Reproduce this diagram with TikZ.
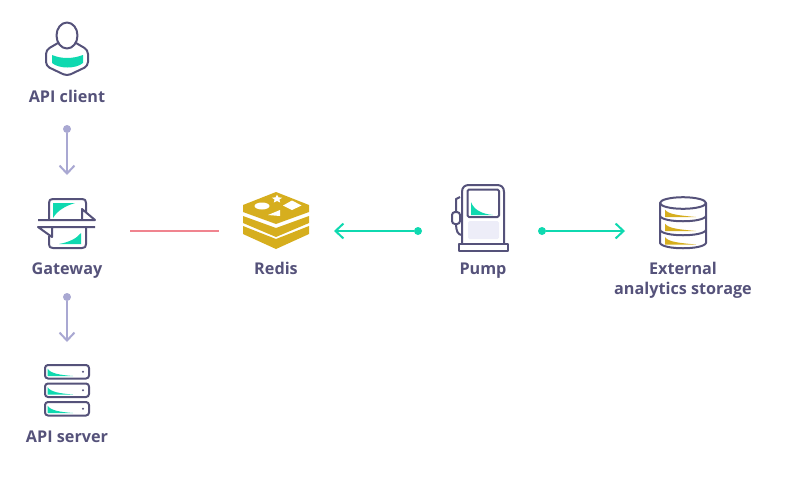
\documentclass[tikz,border=0pt]{standalone}
\usepackage{fontspec}
\setmainfont{Open Sans}
\usepackage{xcolor}
\usetikzlibrary{arrows.meta,shapes.geometric}
\definecolor{inkc}{HTML}{55527A}
\definecolor{tealc}{HTML}{0FD9B0}
\definecolor{goldc}{HTML}{D6AE1E}
\definecolor{lilac}{HTML}{A9A8D2}
\definecolor{redc}{HTML}{F0848F}
\definecolor{softbg}{HTML}{EDEDF8}
\tikzset{
  lbl/.style={font=\fontsize{16.2}{20}\selectfont\bfseries,text=inkc,align=center,inner sep=0pt,anchor=base},
  ic/.style={draw=inkc,line width=2pt,line join=round},
  dotnd/.style={circle,inner sep=0pt,minimum size=8pt},
  arv/.style={-{Straight Barb[length=8pt,width=15pt]},line width=2pt,lilac},
  art/.style={-{Straight Barb[length=8pt,width=15pt]},line width=2pt,tealc}
}
\begin{document}
\begin{tikzpicture}[x=1pt,y=-1pt]
\useasboundingbox (0,0) rectangle (800,483);
% labels
\node[lbl] (client) at (67,102) {API client};
\node[lbl] (gateway) at (67,274.7) {Gateway};
\node[lbl] (server) at (67,442.7) {API server};
\node[lbl] (redis) at (276,274.7) {Redis};
\node[lbl] (pump) at (483,274.7) {Pump};
\node[lbl] (storage) at (683,274.7) {External};
\node[lbl] (storagetwo) at (683,294.7) {analytics storage};
% client icon
\fill[tealc] (52,55) .. controls (62,59) and (72,59) .. (83,55) -- (83,63) .. controls (76,69) and (59,69) .. (52,63) -- cycle;
\draw[ic] (67,35.5) ellipse (10.5 and 13);
\draw[ic,rounded corners=4pt] (58,43) -- (46,50) -- (46,66) -- (67,76) -- (88,66) -- (88,50) -- (76,43);
% gateway icon
\fill[tealc] (53,203) -- (75,203) .. controls (65,206) and (57,211) .. (53,218) -- cycle;
\fill[tealc] (81,233) -- (81,244) -- (59,244) .. controls (70,242) and (77,238) .. (81,233) -- cycle;
\draw[ic] (49,220) -- (49,203) .. controls (49,200) and (50,199) .. (53,199) -- (82,199) .. controls (85,199) and (86,200) .. (86,203) -- (86,212);
\draw[ic] (86,227) -- (86,244) .. controls (86,247) and (85,248) .. (82,248) -- (53,248) .. controls (50,248) and (49,247) .. (49,244) -- (49,236);
\draw[ic] (82,220) -- (82,209) -- (95,220) -- (38,220);
\draw[ic] (52,227) -- (52,237) -- (38,227) -- (95,227);
% server icon
\foreach \ytop in {365,383.5,402}{
  \fill[tealc] (47.5,\ytop+3.5) .. controls (50.5,\ytop+8.5) and (60,\ytop+10) .. (73,\ytop+11) -- (47.5,\ytop+11) -- cycle;
  \draw[ic,rounded corners=3pt] (45,\ytop) rectangle (89,\ytop+13.5);
  \fill[inkc] (83,\ytop+6.7) circle (1.2);
}
% redis icon
\fill[goldc] (243,226) -- (276,239) -- (309,226) -- (309,234) -- (276,249) -- (243,234) -- cycle;
\fill[goldc] (243,216) -- (276,228) -- (309,216) -- (309,223) -- (276,237) -- (243,223) -- cycle;
\fill[goldc] (243,205) -- (276,192) -- (309,205) -- (309,212) -- (276,224) -- (243,212) -- cycle;
\fill[white] (262,206) ellipse (7.5 and 3.5);
\fill[white] (292,200.5) -- (301.5,205.5) -- (292,210) -- (283,205.5) -- cycle;
\fill[white] (268,215) -- (280,210) -- (280,216) -- cycle;
\node[star,star points=5,star point ratio=2.2,fill=white,inner sep=0pt,minimum size=11pt,yscale=0.8] (redisstar) at (277,199) {};
% pump icon
\fill[softbg,rounded corners=1.5pt] (468,221) rectangle (499,239);
\fill[tealc] (471,202) .. controls (474,210) and (482,214) .. (493,215) -- (471,215) -- cycle;
\draw[ic] (462,243) -- (462,192) .. controls (462,187) and (465,185) .. (469,185) -- (497,185) .. controls (501,185) and (504,187) .. (504,192) -- (504,243);
\draw[ic,rounded corners=1.5pt] (467.5,189.5) rectangle (499,217);
\draw[ic] (458.5,243.5) rectangle (508,251);
\draw[ic] (462,235) .. controls (458,235) and (456,231) .. (456,224);
\draw[ic,rounded corners=3pt] (452,224) -- (452,212) -- (460,212) -- (460,224) -- cycle;
\draw[ic] (456,212) -- (456,199) -- (460,197);
% storage icon
\foreach \ywedge in {209.5,223.5,237}{
  \fill[goldc] (665,\ywedge) .. controls (668,\ywedge+5) and (680,\ywedge+6) .. (696,\ywedge+7.5) -- (665,\ywedge+7.5) -- cycle;
}
\draw[ic] (683,203) ellipse (23 and 5.8);
\draw[ic] (660,203) -- (660,243) .. controls (663,250) and (703,250) .. (706,243) -- (706,203);
\draw[ic] (660,216) .. controls (663,223) and (703,223) .. (706,216);
\draw[ic] (660,230) .. controls (663,237) and (703,237) .. (706,230);
% connectors
\node[dotnd,fill=lilac] (clientdot) at (67,129) {};
\coordinate (gatewaytop) at (67,175);
\node[dotnd,fill=lilac] (gatewaydot) at (67,297) {};
\coordinate (servertop) at (67,342);
\coordinate (gatewayright) at (130,231);
\coordinate (redisleft) at (219,231);
\node[dotnd,fill=tealc] (pumpleft) at (418,231) {};
\coordinate (redisright) at (334,231);
\node[dotnd,fill=tealc] (pumpright) at (542,231) {};
\coordinate (storageleft) at (625,231);
\draw[arv] (clientdot) -- (gatewaytop);
\draw[arv] (gatewaydot) -- (servertop);
\draw[redc,line width=2pt] (gatewayright) -- (redisleft);
\draw[art] (pumpleft) -- (redisright);
\draw[art] (pumpright) -- (storageleft);
\end{tikzpicture}
\end{document}
